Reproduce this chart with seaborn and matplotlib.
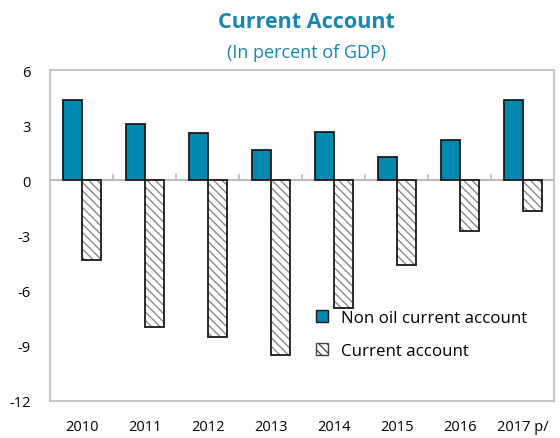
import pandas as pd
import seaborn as sns
import matplotlib
import matplotlib.pyplot as plt
from matplotlib.patches import Patch, Rectangle

matplotlib.use("Agg")

#%% data
years = ["2010", "2011", "2012", "2013", "2014", "2015", "2016", "2017 p/"]
non_oil_ca = [4.4, 3.05, 2.6, 1.65, 2.65, 1.25, 2.2, 4.35]
current_ca = [-4.35, -8.0, -8.55, -9.5, -6.95, -4.6, -2.75, -1.65]
y_ticks = [6, 3, 0, -3, -6, -9, -12]

#%% style
sns.set_style("white")
plt.rcParams["font.family"] = ["Open Sans", "DejaVu Sans"]
plt.rcParams["axes.unicode_minus"] = False
plt.rcParams["hatch.linewidth"] = 0.9
teal = "#0088AE"
grey = "#BBBBBB"
edge = "#1a1a1a"

df = pd.DataFrame({
    "year": years * 2,
    "value": non_oil_ca + current_ca,
    "series": ["Non oil current account"] * len(years) + ["Current account"] * len(years),
})

fig, ax = plt.subplots(figsize=(5.6, 4.39), dpi=100)
fig.subplots_adjust(left=0.09, right=0.99, top=0.838, bottom=0.085)

sns.barplot(data=df, x="year", y="value", hue="series",
            palette=[teal, "white"], saturation=1, width=0.6, gap=0,
            edgecolor=edge, linewidth=1.3, ax=ax, legend=False)

# hatch the current account bars (grey hatch, dark outline on top)
n = len(years)
for bar in list(ax.patches[n:2 * n]):
    bar.set_hatch("\\\\\\\\")
    bar.set_edgecolor("#808080")
    bar.set_linewidth(0)
    ax.add_patch(Rectangle(bar.get_xy(), bar.get_width(), bar.get_height(),
                           fill=False, edgecolor=edge, lw=1.3, zorder=bar.get_zorder() + 0.1))

ax.set_ylim(-12, 6)
ax.set_yticks(y_ticks)
ax.set_xlim(-0.5, n - 0.5)
ax.set_xlabel("")
ax.set_ylabel("")

# zero line with category separators
ax.axhline(0, color=grey, lw=1.5, zorder=0.5)
ax.vlines([i + 0.5 for i in range(n - 1)], 0, 0.35, color=grey, lw=1.2, zorder=0.5)

for sp in ax.spines.values():
    sp.set_color(grey)
    sp.set_linewidth(1.2)

ax.tick_params(axis="y", direction="in", length=4, color=grey, labelsize=10.5,
               pad=14, labelcolor="black")
ax.tick_params(axis="x", length=0, labelsize=10.5, pad=13, labelcolor="black")

fig.text(0.548, 0.937, "Current Account", ha="center", fontsize=15.5,
         fontweight="bold", color="#1687B0")
fig.text(0.548, 0.868, "(In percent of GDP)", ha="center", fontsize=13,
         color="#1687B0")

handles = [Patch(facecolor=teal, edgecolor=edge, lw=1),
           Patch(facecolor="white", edgecolor="#444444", hatch="\\\\\\\\", lw=1)]
ax.legend(handles, ["Non oil current account", "Current account"],
          loc="upper left", bbox_to_anchor=(0.513, 0.295), frameon=False,
          fontsize=12.2, handlelength=0.7, handleheight=0.7, labelspacing=1.0,
          handletextpad=0.8, borderaxespad=0, labelcolor="black")

fig.savefig("out.png", dpi=100)
